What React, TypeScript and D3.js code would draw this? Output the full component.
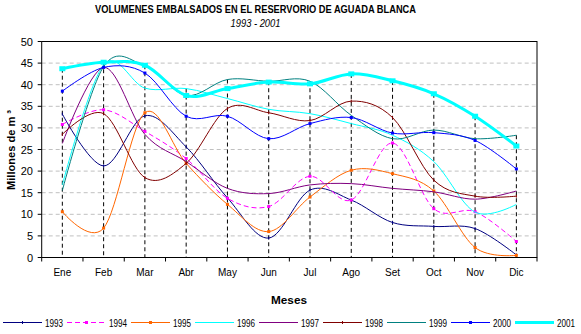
import React from "react";
import * as d3 from "d3";

const months = ["Ene", "Feb", "Mar", "Abr", "May", "Jun", "Jul", "Ago", "Set", "Oct", "Nov", "Dic"];
const years = ["1993", "1994", "1995", "1996", "1997", "1998", "1999", "2000", "2001"];

const v1993 = [33.2, 21.2, 32.8, 25.6, 13.8, 4.5, 15.6, 13.3, 8.1, 7.2, 6.7, 0.6];
const v1994 = [30.8, 34.2, 29.2, 22.9, 13.7, 11.8, 18.8, 13.3, 26.5, 11.3, 10.6, 3.7];
const v1995 = [10.6, 6.8, 33.5, 21.8, 12.3, 6.0, 14.0, 20.2, 19.4, 15.4, 2.3, 0.5];
const v1996 = [16.8, 44.6, 39.2, 39.1, 36.8, 34.3, 33.3, 31.0, 28.3, 22.2, 10.5, 12.3];
const v1997 = [26.4, 44.0, 28.5, 22.2, 16.0, 14.8, 16.8, 17.1, 16.0, 15.2, 13.5, 15.4];
const v1998 = [28.5, 33.3, 18.5, 21.8, 34.5, 33.5, 31.7, 36.2, 32.4, 17.9, 14.2, 14.2];
const v1999 = [15.5, 44.2, 44.3, 37.5, 41.2, 40.8, 40.8, 32.9, 27.5, 29.5, 27.5, 28.3];
const v2000 = [38.5, 44.0, 42.7, 32.7, 32.7, 27.5, 31.0, 32.4, 28.8, 28.9, 27.1, 20.5];
const v2001 = [43.7, 45.2, 44.5, 37.5, 39.1, 40.6, 40.2, 42.5, 40.9, 37.9, 32.7, 25.8];

const yTicks = [0, 5, 10, 15, 20, 25, 30, 35, 40, 45, 50];

const seriesValues = [v1993, v1994, v1995, v1996, v1997, v1998, v1999, v2000, v2001];
const colors = ["#000080", "#FF00FF", "#FF6600", "#00FFFF", "#800080", "#800000", "#008080", "#0000FF", "#00FFFF"];
const widths = [1, 1, 1, 1, 1, 1, 1, 1, 3];
const dashes = [null, "5,3", null, null, null, null, null, null, null];
const markers = ["plus", "square", "square", "none", "none", "plus", "none", "square", "bigsquare"];

const W = 581, H = 334;
const left = 41.7, right = 537, top = 41.5, bottom = 257.5;
const FONT = "Liberation Sans, Arial, sans-serif";

export default function App() {
  const x = d3.scaleBand<string>().domain(months).range([left, right]);
  const cx = (m: string) => (x(m) as number) + x.bandwidth() / 2;
  const y = d3.scaleLinear().domain([0, 50]).range([bottom, top]);
  const line = d3
    .line<number>()
    .x((_, i) => cx(months[i]))
    .y((d) => y(d))
    .curve(d3.curveCardinal.tension(0));

  const maxes = months.map((_, i) => d3.max(seriesValues, (s) => s[i]) as number);
  const bounds = months.map((m) => x(m) as number).concat([right]);

  const marker = (kind: string, px: number, py: number, color: string, key: string) => {
    if (kind === "square") return <rect key={key} x={px - 1.5} y={py - 1.5} width={3} height={3} fill={color} />;
    if (kind === "bigsquare") return <rect key={key} x={px - 3} y={py - 2.5} width={6} height={5} fill={color} />;
    if (kind === "plus") return <line key={key} x1={px} x2={px} y1={py - 1.5} y2={py + 1.5} stroke={color} strokeWidth={1} />;
    return null;
  };

  return (
    <svg width={W} height={H} style={{ position: "absolute", left: 0, top: 0, background: "#fff" }} fontFamily={FONT}>
      <rect x={0} y={0} width={W} height={H} fill="#fff" />
      <text x={255.5} y={12.5} textAnchor="middle" fontSize={10.5} fontWeight="bold" textLength={321} lengthAdjust="spacingAndGlyphs">
        VOLUMENES EMBALSADOS EN EL RESERVORIO DE AGUADA BLANCA
      </text>
      <text x={255.5} y={26.5} textAnchor="middle" fontSize={10} fontStyle="italic" textLength={50} lengthAdjust="spacingAndGlyphs">
        1993 - 2001
      </text>

      {yTicks.filter((t) => t > 0 && t < 50).map((t) => (
        <line key={"g" + t} x1={left} x2={right} y1={y(t)} y2={y(t)} stroke="#C0C0C0" strokeDasharray="4,3" />
      ))}

      {months.map((m, i) => (
        <line key={"d" + m} x1={cx(m)} x2={cx(m)} y1={y(maxes[i])} y2={y(0)} stroke="#000" strokeDasharray="4,3" />
      ))}

      {seriesValues.map((s, k) => (
        <g key={years[k]}>
          <path d={line(s) as string} fill="none" stroke={colors[k]} strokeWidth={widths[k]} strokeDasharray={dashes[k] || undefined} />
          {s.map((v, i) => marker(markers[k], cx(months[i]), y(v), colors[k], years[k] + i))}
        </g>
      ))}

      <rect x={left} y={top} width={right - left} height={bottom - top} fill="none" stroke="#000" strokeWidth={1} />

      {yTicks.map((t) => (
        <g key={"y" + t}>
          <line x1={left - 4} x2={left} y1={y(t)} y2={y(t)} stroke="#000" />
          <text x={33} y={y(t) + 4} textAnchor="end" fontSize={11}>{t}</text>
        </g>
      ))}
      {bounds.map((b, i) => (
        <line key={"xt" + i} x1={b} x2={b} y1={bottom} y2={bottom + 4} stroke="#000" />
      ))}
      {months.map((m) => (
        <text key={"xl" + m} x={cx(m)} y={276} textAnchor="middle" fontSize={10}>{m}</text>
      ))}

      <text x={289} y={304} textAnchor="middle" fontSize={11} fontWeight="bold" textLength={36} lengthAdjust="spacingAndGlyphs">Meses</text>
      <text transform={`translate(15,150) rotate(-90)`} textAnchor="middle" fontSize={11} fontWeight="bold" textLength={80} lengthAdjust="spacingAndGlyphs">
        Millones de m ³
      </text>

      {years.map((yr, k) => {
        const lx = 3 + k * 64;
        const ly = 322.5;
        return (
          <g key={"lg" + yr}>
            <line x1={lx} x2={lx + 39} y1={ly} y2={ly} stroke={colors[k]} strokeWidth={widths[k]} strokeDasharray={dashes[k] || undefined} />
            {markers[k] !== "none" && markers[k] !== "bigsquare" ? marker(markers[k], lx + 19.5, ly, colors[k], "lm" + yr) : null}
            <text x={lx + 42} y={ly + 4} fontSize={10} textLength={18} lengthAdjust="spacingAndGlyphs">{yr}</text>
          </g>
        );
      })}
    </svg>
  );
}
